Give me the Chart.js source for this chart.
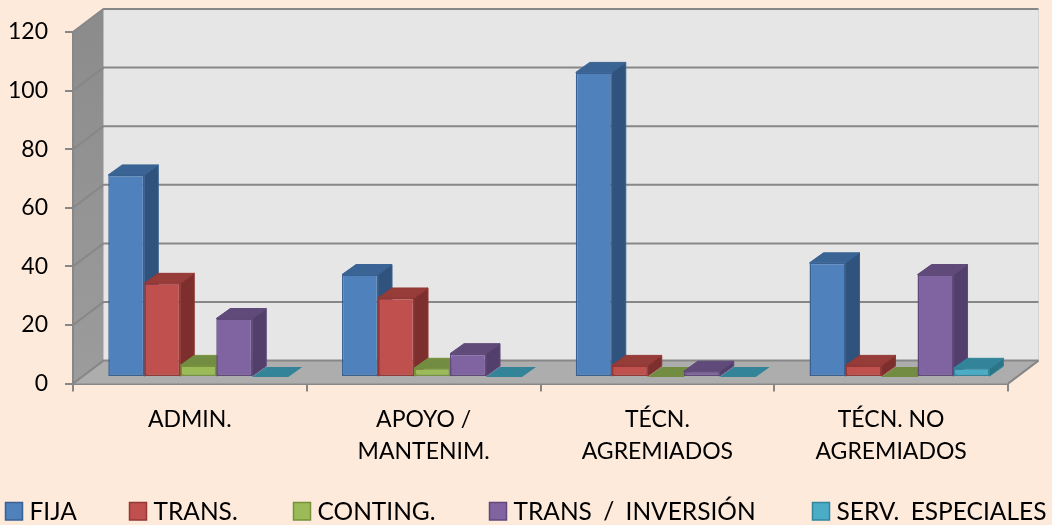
<!DOCTYPE html>
<html>
<head>
<meta charset="utf-8">
<style>html,body{margin:0;padding:0;background:#FEEADB}canvas{display:block}</style>
<script src="https://cdn.jsdelivr.net/npm/chart.js@4"></script>
</head>
<body>
<canvas id="c" width="1052" height="525"></canvas>
<script>
const categories = [["ADMIN."], ["APOYO /", "MANTENIM."], ["TÉCN.", "AGREMIADOS"], ["TÉCN. NO", "AGREMIADOS"]];
const fija = [69, 35, 104, 39];
const trans = [32, 27, 4, 4];
const conting = [4, 3, 0, 0];
const transInversion = [20, 8, 2, 35];
const servEspeciales = [0, 0, 0, 3];
const seriesNames = ["FIJA", "TRANS.", "CONTING.", "TRANS / INVERSIÓN", "SERV. ESPECIALES"];

const frontColors = ["#4F81BD", "#C0504D", "#9BBB59", "#8064A2", "#4BACC6"];
const edgeColors = ["#386192", "#953735", "#76923C", "#5F497A", "#31859C"];
const topColors = ["#3A6494", "#963C39", "#728C42", "#5F4A79", "#338499"];
const sideColors = ["#30537D", "#7C2F2D", "#617737", "#533F6C", "#2C7488"];
const legendBoxX = [5, 129, 293, 489, 812];

const FONT = "Lato";
const wallDepth = {x: 30.5, y: -23};
const barShift = {x: 8.4, y: -6.5};
const barDepth = {x: 14, y: -10};
const GRID = "#878787";

function poly(ctx, pts, fill, stroke, lw) {
  ctx.beginPath();
  pts.forEach((p, i) => i ? ctx.lineTo(p[0], p[1]) : ctx.moveTo(p[0], p[1]));
  ctx.closePath();
  if (fill) { ctx.fillStyle = fill; ctx.fill(); }
  if (stroke) { ctx.strokeStyle = stroke; ctx.lineWidth = lw || 1; ctx.stroke(); }
}

const box3d = {
  id: "box3d",
  beforeDraw(chart) {
    const {ctx, width, height} = chart;
    ctx.save();
    ctx.fillStyle = "#FEEADB";
    ctx.fillRect(0, 0, width, height);
    ctx.restore();
  },
  beforeDatasetsDraw(chart) {
    const {ctx, chartArea: a, scales} = chart;
    const dx = wallDepth.x, dy = wallDepth.y;
    ctx.save();
    // back wall
    poly(ctx, [[a.left + dx, a.top + dy], [a.right + dx, a.top + dy], [a.right + dx, a.bottom + dy], [a.left + dx, a.bottom + dy]], "#E6E6E6");
    ctx.strokeStyle = "#D4D4D4"; ctx.lineWidth = 1;
    ctx.beginPath(); ctx.moveTo(a.right + dx, a.top + dy); ctx.lineTo(a.right + dx, a.bottom + dy); ctx.stroke();
    // left wall
    const g = ctx.createLinearGradient(0, a.top, 0, a.bottom);
    g.addColorStop(0, "#8C8C8C"); g.addColorStop(1, "#9C9C9C");
    poly(ctx, [[a.left, a.top], [a.left + dx, a.top + dy], [a.left + dx, a.bottom + dy], [a.left, a.bottom]], g);
    // floor
    poly(ctx, [[a.left, a.bottom], [a.right, a.bottom], [a.right + dx, a.bottom + dy], [a.left + dx, a.bottom + dy]], "#ADADAD");
    // grid lines across walls
    ctx.strokeStyle = GRID; ctx.lineWidth = 2;
    scales.y.ticks.forEach(t => {
      const y = scales.y.getPixelForValue(t.value);
      ctx.beginPath();
      ctx.moveTo(a.left, y);
      ctx.lineTo(a.left + dx, y + dy);
      ctx.lineTo(a.right + dx, y + dy);
      ctx.stroke();
    });
    // floor right edge and wall edge
    ctx.beginPath();
    ctx.moveTo(a.right, a.bottom); ctx.lineTo(a.right + dx, a.bottom + dy);
    ctx.moveTo(a.left, a.top); ctx.lineTo(a.left, a.bottom);
    ctx.stroke();
    ctx.restore();

    // series are painted first to last so every box overlaps the one on its left
    const ddx = barDepth.x, ddy = barDepth.y;
    chart.data.datasets.forEach((ds, i) => {
      const meta = chart.getDatasetMeta(i);
      ctx.save();
      ctx.translate(barShift.x, barShift.y);
      ctx.lineJoin = "round";
      meta.data.forEach(bar => {
        const l = bar.x - bar.width / 2, r = bar.x + bar.width / 2, t = bar.y, b = bar.base;
        if (b - t > 0.5) {
          poly(ctx, [[r, t], [r + ddx, t + ddy], [r + ddx, b + ddy], [r, b]], sideColors[i], edgeColors[i], 1);
          poly(ctx, [[l, t], [r, t], [r + ddx, t + ddy], [l + ddx, t + ddy]], topColors[i], edgeColors[i], 1);
        } else {
          poly(ctx, [[l, t], [r, t], [r + ddx, t + ddy], [l + ddx, t + ddy]], topColors[i]);
        }
      });
      meta.controller.draw();
      ctx.restore();
    });
    return false;
  },
  afterDraw(chart) {
    const {ctx} = chart;
    ctx.save();
    ctx.font = "24.5px " + FONT;
    ctx.wordSpacing = "5px";
    ctx.textBaseline = "alphabetic";
    ctx.textAlign = "left";
    seriesNames.forEach((name, i) => {
      const x = legendBoxX[i];
      ctx.fillStyle = frontColors[i];
      ctx.strokeStyle = edgeColors[i];
      ctx.lineWidth = 1.5;
      ctx.fillRect(x + 0.5, 502.5, 17, 17.5);
      ctx.strokeRect(x + 0.5, 502.5, 17, 17.5);
      ctx.fillStyle = "#000";
      ctx.fillText(name, x + 24.5, 519.5);
    });
    ctx.restore();
  }
};

const seriesValues = [fija, trans, conting, transInversion, servEspeciales];

new Chart(document.getElementById("c"), {
  type: "bar",
  data: {
    labels: categories,
    datasets: seriesValues.map((values, i) => ({
      label: seriesNames[i],
      data: values,
      backgroundColor: frontColors[i],
      borderColor: edgeColors[i],
      borderWidth: c => (c.raw > 0 ? 1.5 : 0),
      borderSkipped: false,
      categoryPercentage: 180 / 233.75,
      barPercentage: 1
    }))
  },
  options: {
    responsive: false,
    animation: false,
    layout: {padding: {top: 32, right: 44, left: 0, bottom: 0}},
    plugins: {legend: {display: false}, title: {display: false}, tooltip: {enabled: false}},
    scales: {
      x: {
        afterFit(s) { s.height = 141.4; },
        grid: {drawOnChartArea: false, drawTicks: true, tickLength: 8, color: GRID, lineWidth: 2, offset: true},
        border: {display: true, color: GRID, width: 2},
        ticks: {
          color: "#000", padding: 12, maxRotation: 0, autoSkip: false,
          font: {family: FONT, size: 23, lineHeight: 32 / 23}
        }
      },
      y: {
        min: 0, max: 120,
        afterFit(s) { s.width = 73; },
        grid: {drawOnChartArea: false, drawTicks: true, tickLength: 8, color: GRID, lineWidth: 2},
        border: {display: true, color: GRID, width: 2},
        ticks: {
          stepSize: 20, color: "#000", padding: 17,
          font: {family: FONT, size: 23}
        }
      }
    }
  },
  plugins: [box3d]
});
</script>
</body>
</html>
